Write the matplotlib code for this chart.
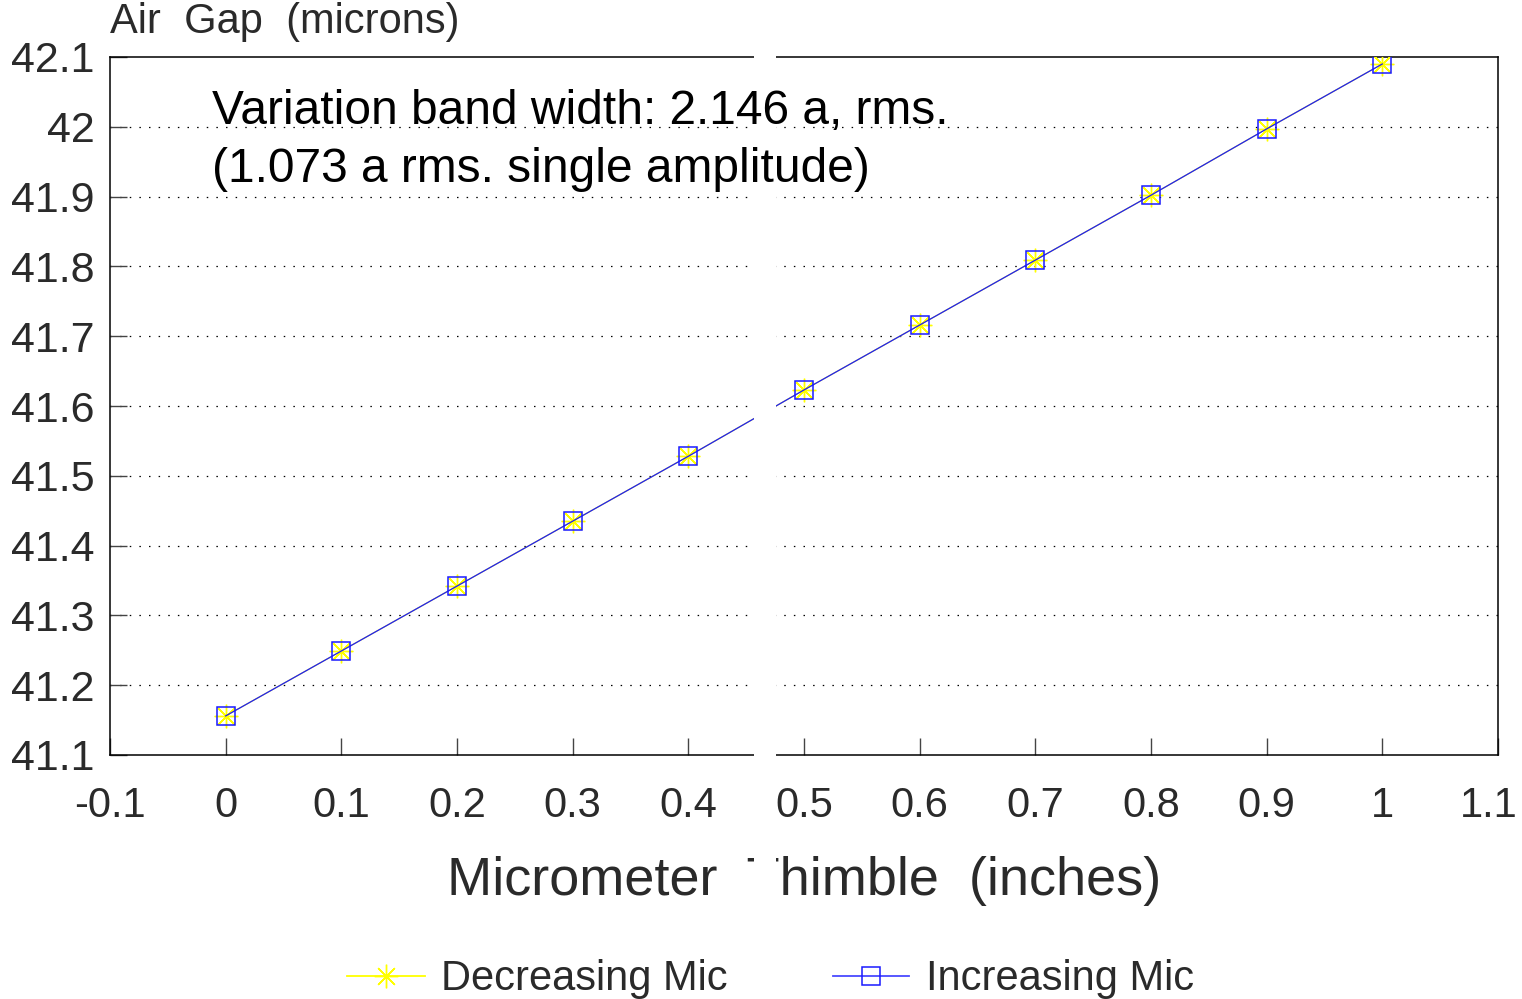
import matplotlib
matplotlib.use("Agg")
import matplotlib.pyplot as plt
from matplotlib.lines import Line2D
from matplotlib.patches import Rectangle
from matplotlib.transforms import ScaledTranslation

# ---- data ----
thimble = [0.0, 0.1, 0.2, 0.3, 0.4, 0.5, 0.6, 0.7, 0.8, 0.9, 1.0]
decreasing_mic = [41.156, 41.249, 41.342, 41.435, 41.528, 41.623, 41.716, 41.809, 41.902, 41.997, 42.090]
increasing_mic = [41.156, 41.249, 41.342, 41.435, 41.528, 41.623, 41.716, 41.809, 41.902, 41.997, 42.090]
x_ticks = [-0.1, 0, 0.1, 0.2, 0.3, 0.4, 0.5, 0.6, 0.7, 0.8, 0.9, 1, 1.1]
x_tick_labels = ["-0.1", "0", "0.1", "0.2", "0.3", "0.4", "0.5", "0.6", "0.7", "0.8", "0.9", "1", "1.1"]
y_ticks = [41.1, 41.2, 41.3, 41.4, 41.5, 41.6, 41.7, 41.8, 41.9, 42.0, 42.1]
y_tick_labels = ["41.1", "41.2", "41.3", "41.4", "41.5", "41.6", "41.7", "41.8", "41.9", "42", "42.1"]
series_names = ["Decreasing Mic", "Increasing Mic"]
note_lines = ["Variation band width: 2.146 a, rms.", "(1.073 a rms. single amplitude)"]

plt.rcParams['font.family'] = ['Liberation Sans', 'DejaVu Sans']

W, H = 1522, 999
fig = plt.figure(figsize=(W / 100, H / 100), dpi=100)
ax = fig.add_axes([110 / W, 1 - 755 / H, (1498 - 110) / W, (755 - 57) / H])

txt_col = '#2a2a2a'

ax.plot(thimble, decreasing_mic, color='yellow', lw=0.9, marker=(8, 2, 0),
        markersize=17, markeredgewidth=1.0, markeredgecolor='yellow', zorder=3)
ax.plot(thimble, increasing_mic, color='#1a1aff', lw=0.9, marker='s',
        markersize=13, markerfacecolor='none', markeredgecolor='#1a1aff',
        markeredgewidth=1.1, zorder=4)

ax.set_xlim(-0.1, 1.1)
ax.set_ylim(41.1, 42.1)
ax.set_xticks(x_ticks)
ax.set_xticklabels(x_tick_labels)
ax.set_yticks(y_ticks)
ax.set_yticklabels(y_tick_labels)

ax.tick_params(axis='x', direction='in', length=12, width=1.0, pad=22,
               labelsize=30, colors='#444444', labelcolor=txt_col, top=False)
ax.tick_params(axis='y', direction='in', length=12, width=1.0, pad=11,
               labelsize=31, colors='#444444', labelcolor=txt_col, right=False)

# keep the last x tick label inside the canvas
last = ax.get_xticklabels()[-1]
last.set_transform(last.get_transform() + ScaledTranslation(-9 / 100, 0, fig.dpi_scale_trans))

for s in ax.spines.values():
    s.set_color('black')
    s.set_linewidth(1.1)

for yv in y_ticks[1:-1]:
    ax.axhline(yv, color='black', lw=0.9, linestyle=(0, (1.2, 6.5)), zorder=1)

# annotation (drawn above the white gap, as in the reference)
fig.text(212 / W, 1 - 124 / H, note_lines[0], fontsize=34.5, color='black',
         va='baseline', ha='left', zorder=12)
fig.text(212 / W, 1 - 182 / H, note_lines[1], fontsize=34.5, color='black',
         va='baseline', ha='left', zorder=12)

# axis titles
fig.text(110 / W, 1 - 33 / H, "Air  Gap  (microns)", fontsize=30, color=txt_col,
         ha='left', va='baseline')
fig.text((443 + 1165) / 2 / W, 1 - 895 / H, "Micrometer  Thimble  (inches)", fontsize=39,
         color=txt_col, ha='center', va='baseline')

# legend
base = 1 - 990 / H
ly = 1 - 976 / H
fig.add_artist(Line2D([347 / W, 425 / W], [ly, ly], color='yellow', lw=1.3))
fig.add_artist(Line2D([386 / W], [ly], marker=(8, 2, 0), markersize=17,
                      color='yellow', markeredgewidth=1.0, linestyle='none'))
fig.text(441 / W, base, series_names[0], fontsize=30, color=txt_col,
         ha='left', va='baseline')
fig.add_artist(Line2D([833 / W, 909 / W], [ly, ly], color='#4a4aff', lw=1.3))
fig.add_artist(Line2D([871 / W], [ly], marker='s', markersize=13,
                      markerfacecolor='none', markeredgecolor='#1a1aff',
                      markeredgewidth=1.1, linestyle='none'))
fig.text(926 / W, base, series_names[1], fontsize=30, color=txt_col,
         ha='left', va='baseline')

# white vertical gap present in the reference image
fig.add_artist(Rectangle((754 / W, 1 - 900 / H), 22 / W, 860 / H,
                         transform=fig.transFigure, facecolor='white',
                         edgecolor='none', zorder=10))

fig.savefig("out.png", dpi=100)
